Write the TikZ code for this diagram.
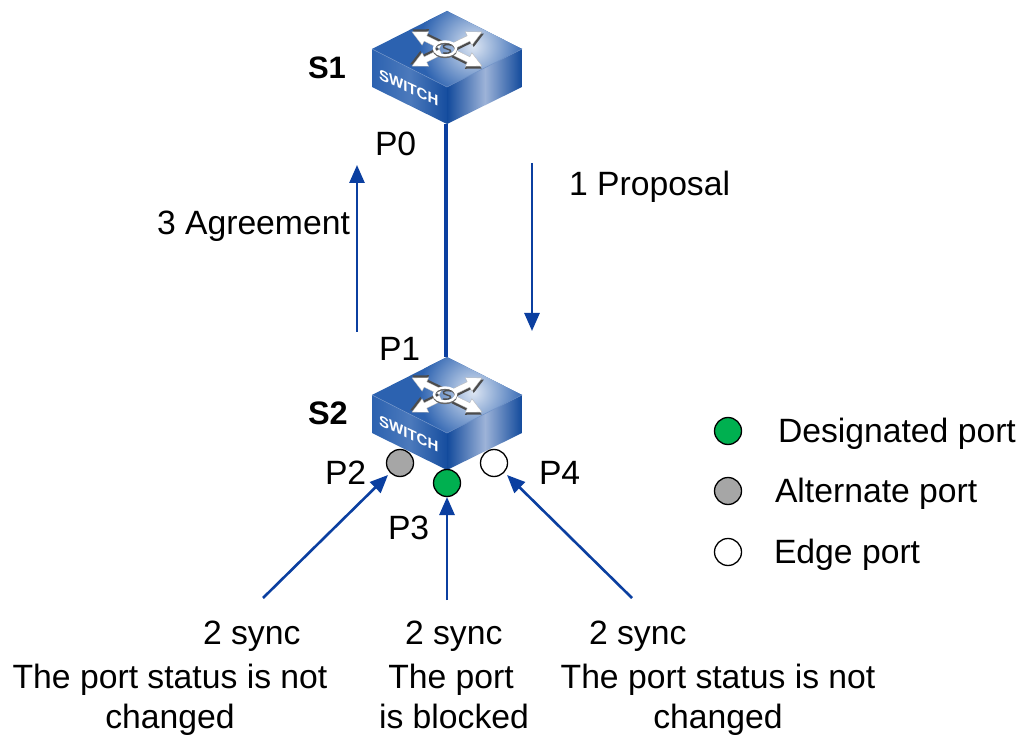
\documentclass[tikz,border=0pt]{standalone}
\usepackage{fontspec}
\setmainfont{Liberation Sans}
\usetikzlibrary{arrows.meta}
\definecolor{linkblue}{HTML}{0B3FA0}
\definecolor{swdark}{HTML}{124A9C}
\definecolor{swmid}{HTML}{2C62B0}
\definecolor{swlight}{HTML}{9DB3D8}
\definecolor{swglow}{HTML}{DDE6F3}
\definecolor{portgreen}{HTML}{00B050}
\definecolor{portgrey}{HTML}{A6A6A6}
\tikzset{
  x=1pt,y=1pt,
  lbl/.style={inner sep=0pt,outer sep=0pt,anchor=base west,font=\fontsize{33.7}{40}\selectfont},
  lblc/.style={inner sep=0pt,outer sep=0pt,anchor=north,align=center,font=\fontsize{33.7}{40}\selectfont},
  boldlbl/.style={lbl,font=\fontsize{31}{36}\selectfont\bfseries},
  port/.style={circle,draw=black,line width=1.3pt,minimum size=27pt,inner sep=0pt},
  msg/.style={draw=linkblue,line width=2.6pt,-{Triangle[length=18pt,width=15pt]},shorten >=0pt},
  link/.style={draw=linkblue,line width=4pt},
  arrowpoly/.pic={
    \fill[black!70,shift={(0.8,-2.4)}] (7,-3)--(24,-3)--(24,-7.5)--(39,0)--(24,7.5)--(24,3)--(7,3)--cycle;
    \fill[white,draw=black!30,line width=.3pt] (7,-3)--(24,-3)--(24,-7.5)--(39,0)--(24,7.5)--(24,3)--(7,3)--cycle;
  },
  pics/switch/.style={code={
    % top face
    \fill[swmid] (0,38)--(75,0)--(0,-38)--(-75,0)--cycle;
    \begin{scope}
      \clip (0,38)--(75,0)--(0,-38)--(-75,0)--cycle;
      \shade[inner color=swglow,outer color=swmid] (26,3) circle (54);
    \end{scope}
    % left face
    \begin{scope}
      \clip (-75,0)--(0,-38)--(0,-75)--(-75,-38)--cycle;
      \shade[left color=swmid,right color=swdark!85!swmid,middle color=swmid!85!white] (-75,-75) rectangle (0,0);
    \end{scope}
    % right face
    \begin{scope}
      \clip (75,0)--(0,-38)--(0,-75)--(75,-38)--cycle;
      \shade[left color=swdark,right color=swlight] (0,-75) rectangle (38,0);
      \shade[left color=swlight,right color=swdark] (38,-75) rectangle (75,0);
    \end{scope}
    \draw[swlight!60!swmid,line width=.5pt] (-75,0)--(0,-38)--(75,0);
    % cross arrows
    \foreach \a in {26,154,206,334}{
      \pic[rotate=\a] {arrowpoly};
    }
    % central knot
    \draw[black!60,line width=2.4pt] (-2,-1) ellipse (11 and 7);
    \draw[white,line width=2.4pt] (-2,0.5) ellipse (11 and 7);
    \draw[black!70,line width=1.4pt] (4,4) .. controls (-5,6) and (-6,1) .. (0,0) .. controls (6,-1) and (5,-5) .. (-4,-4);
    \node[inner sep=0pt,text=white,transform shape,font=\fontsize{15}{15}\selectfont\bfseries,
      anchor=base west,cm={1,-0.46,0,1,(-68,-30)}] at (0,0) {SWITCH};
    \coordinate (top) at (-0.7,38);
    \coordinate (bottom) at (-0.7,-75);
  }}
}
\begin{document}
\begin{tikzpicture}
\useasboundingbox (0,0) rectangle (1024,734);
\fill[white] (0,0) rectangle (1024,734);

\pic (s1) at (447,685) {switch};
\pic (s2) at (447,339) {switch};
\draw[link] (s1bottom) -- (s2top);

% ports
\node[port,fill=portgrey] (p2) at (400,271) {};
\node[port,fill=portgreen] (p3) at (447,251) {};
\node[port,fill=white] (p4) at (494,271) {};

% legend
\node[port,fill=portgreen] (lg) at (728,303) {};
\node[port,fill=portgrey] (la) at (728,243) {};
\node[port,fill=white] (le) at (728,182) {};
\node[lbl] (ltg) at (778,291.5) {Designated port};
\node[lbl] (lta) at (775,232) {Alternate port};
\node[lbl] (lte) at (774,171) {Edge port};

% labels
\node[boldlbl] (ts1) at (308,655) {S1};
\node[boldlbl,font=\fontsize{32.5}{36}\selectfont\bfseries] (ts2) at (308,309) {S2};
\node[lbl] (tp0) at (375,578) {P0};
\node[lbl] (tp1) at (379,373) {P1};
\node[lbl] (tp2) at (325,250) {P2};
\node[lbl] (tp3) at (388,195) {P3};
\node[lbl] (tp4) at (539,250) {P4};
\node[lbl] (prop) at (569,538) {1 Proposal};
\node[lbl] (agr) at (157,499.5) {3 Agreement};

\node[lbl] (sy1) at (203,90) {2 sync};
\node[lbl] (sy2) at (405,90) {2 sync};
\node[lbl] (sy3) at (589,90) {2 sync};
\node[lblc] (st1) at (170,69.5) {The port status is not\\changed};
\node[lblc] (st2) at (454,69.5) {The port\hspace*{6pt}\\is blocked};
\node[lblc] (st3) at (718,69.5) {The port status is not\\changed};

% message arrows
\coordinate (a1s) at (532,571);
\coordinate (a1e) at (532,403);
\coordinate (a3s) at (357,402);
\coordinate (a3e) at (357,569);
\coordinate (a21) at (263,136);
\coordinate (a22) at (447,134);
\coordinate (a23) at (632,136);
\coordinate (t21) at (388,259);
\coordinate (t22) at (447,237);
\coordinate (t23) at (507,259);
\draw[msg] (a1s) -- (a1e);
\draw[msg] (a3s) -- (a3e);
\draw[msg] (a21) -- (t21);
\draw[msg] (a22) -- (t22);
\draw[msg] (a23) -- (t23);
\end{tikzpicture}
\end{document}
